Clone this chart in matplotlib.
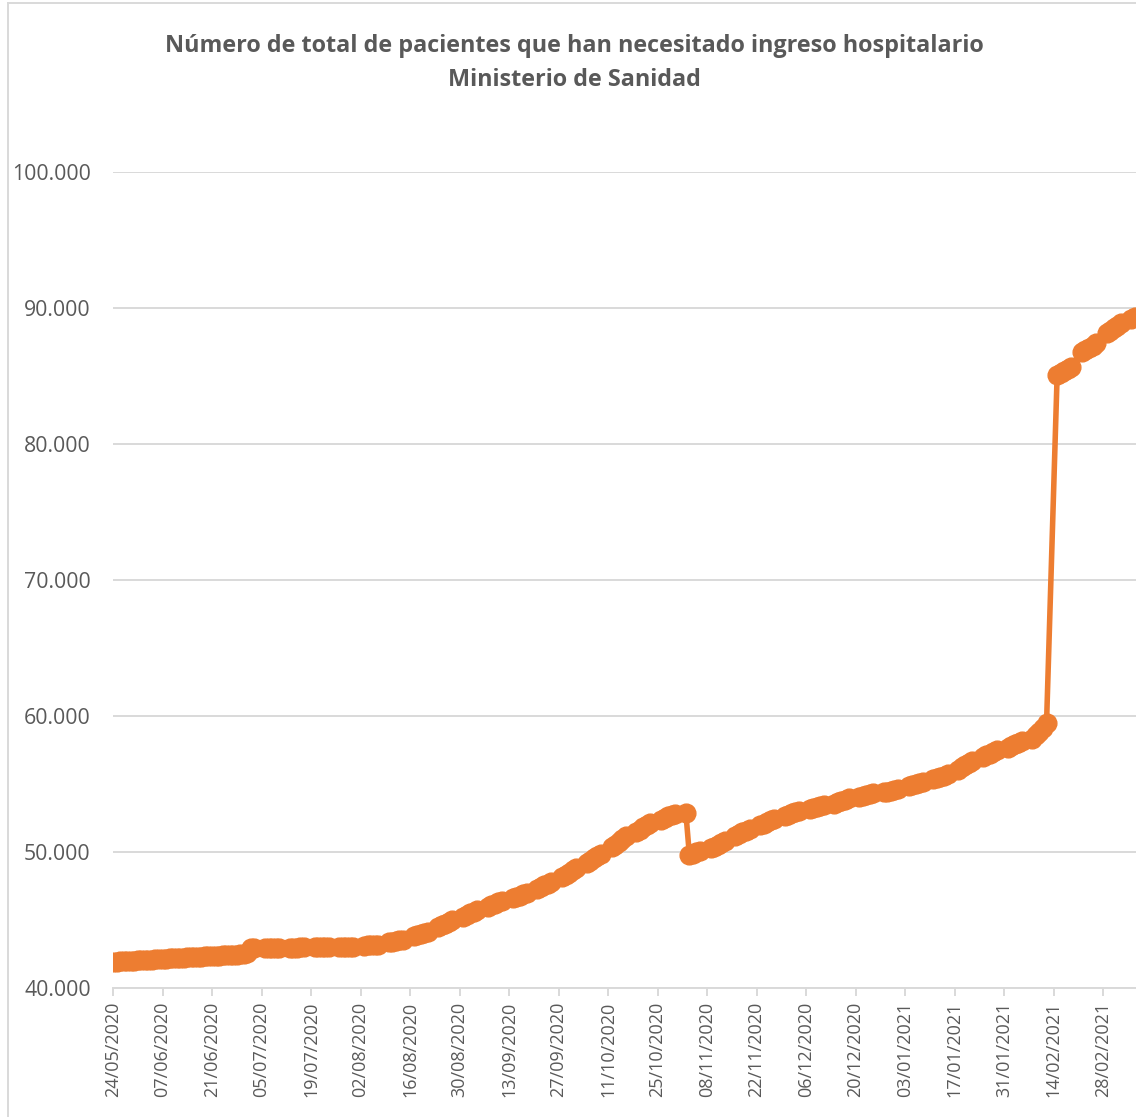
import numpy as np
import pandas as pd
import matplotlib
matplotlib.use('Agg')
import matplotlib.pyplot as plt
from matplotlib.lines import Line2D

# daily reports 24/05/2020 - 01/07/2020
daily_start = '2020-05-24'
daily_values = [
    41930, 41945, 41960, 41975, 41990, 42005, 42020,
    42035, 42050, 42065, 42080, 42095, 42110, 42125,
    42140, 42155, 42170, 42185, 42200, 42215, 42230,
    42245, 42260, 42275, 42290, 42305, 42320, 42335,
    42350, 42365, 42380, 42395, 42410, 42425, 42440,
    42460, 42480, 42510, 42550,
]
# weekday reports from 02/07/2020, one list per week (Mon-Fri)
weekday_start = '2020-07-02'
weeks = [
    [42920, 42930],                       # 02/07
    [42935, 42940, 42945, 42950, 42955],  # 06/07
    [42965, 42970, 42975, 42980, 42985],
    [42995, 43000, 43005, 43010, 43015],
    [43030, 43035, 43040, 43045, 43050],
    [43110, 43130, 43150, 43170, 43190],  # 03/08
    [43350, 43400, 43450, 43500, 43560],
    [43800, 43880, 43960, 44040, 44120],
    [44500, 44620, 44740, 44860, 44980],
    [45250, 45370, 45490, 45610, 45730],
    [45980, 46090, 46200, 46310, 46420],  # 07/09
    [46640, 46720, 46800, 46880, 46960],
    [47300, 47420, 47540, 47660, 47780],
    [48150, 48320, 48490, 48660, 48830],
    [49200, 49370, 49540, 49710, 49880],  # 05/10
    [50350, 50550, 50750, 50950, 51150],
    [51480, 51650, 51820, 51990, 52150],
    [52380, 52500, 52620, 52740, 52800],
    [52890, 49780, 49880, 49980, 50080],  # 02/11
    [50270, 50400, 50530, 50660, 50790],
    [51150, 51300, 51450, 51580, 51700],
    [51950, 52080, 52210, 52330, 52450],
    [52650, 52750, 52850, 52930, 53010],  # 30/11
    [53150, 53230, 53300, 53370, 53440],
    [53560, 53660, 53760, 53850, 53940],
    [54050, 54130, 54210, 54280, 54330],
    [54380, 54440, 54500, 54560, 54600],
    [54850, 54930, 55010, 55080, 55150],  # 04/01
    [55350, 55440, 55530, 55620, 55710],
    [56050, 56220, 56390, 56560, 56720],
    [57000, 57120, 57240, 57360, 57480],
    [57650, 57780, 57910, 58040, 58170],  # 01/02
    [58300, 58580, 58860, 59150, 59460],
    [85070, 85220, 85370, 85510, 85640],
    [86790, 86940, 87090, 87240, 87400],
    [88140, 88320, 88500, 88680, 88870],  # 01/03
    [89200, 89360],
]

title = 'Número de total de pacientes que han necesitado ingreso hospitalario\nMinisterio de Sanidad'
orange = '#ED7D31'
grey = '#595959'

day_dates = pd.date_range(daily_start, periods=len(daily_values), freq='D')
wk_values = [v for w in weeks for v in w]
wk_dates = pd.bdate_range(weekday_start, periods=len(wk_values))
dates = list(day_dates) + list(wk_dates)
values = daily_values + wk_values

plt.rcParams['font.family'] = ['Open Sans', 'DejaVu Sans']

fig = plt.figure(figsize=(11.36, 11.17), dpi=100)
ax = fig.add_axes([113 / 1136, 1 - 988 / 1117, 1 - 113 / 1136, (988 - 172) / 1117])

ax.plot(dates, values, color=orange, lw=4, marker='o', ms=13.5,
        markerfacecolor=orange, markeredgecolor=orange, solid_capstyle='round', zorder=3)

start = pd.Timestamp(daily_start)
ax.set_xlim(start, start + pd.Timedelta(days=289.3))
ax.set_ylim(40000, 100000)

ticks = pd.date_range(start, '2021-02-28', freq='14D')
ax.set_xticks(ticks)
ax.set_xticklabels([t.strftime('%d/%m/%Y') for t in ticks], rotation=90,
                   color=grey, fontsize=13)
ax.set_yticks(np.arange(40000, 100001, 10000))
ax.set_yticklabels([f'{v:,.0f}'.replace(',', '.') for v in np.arange(40000, 100001, 10000)],
                   color=grey, fontsize=15.3)

ax.grid(axis='y', color='#D9D9D9', lw=1.4)
ax.set_axisbelow(True)
for s in ['top', 'right', 'left']:
    ax.spines[s].set_visible(False)
ax.spines['bottom'].set_color('#D9D9D9')
ax.spines['bottom'].set_linewidth(1.4)
ax.tick_params(axis='x', length=6, color='#D9D9D9', width=1.4, pad=4)
ax.tick_params(axis='y', length=0, pad=16)

fig.text(0.506, 0.970, title, ha='center', va='top', fontsize=16.8,
         fontweight='bold', color=grey, linespacing=1.6)

# chart border (only left and top visible in the crop)
fig.add_artist(Line2D([8 / 1136, 8 / 1136], [0, 1 - 3 / 1117], color='#D9D9D9', lw=1.4))
fig.add_artist(Line2D([8 / 1136, 1], [1 - 3 / 1117, 1 - 3 / 1117], color='#D9D9D9', lw=1.4))

fig.savefig('out.png', dpi=100)
